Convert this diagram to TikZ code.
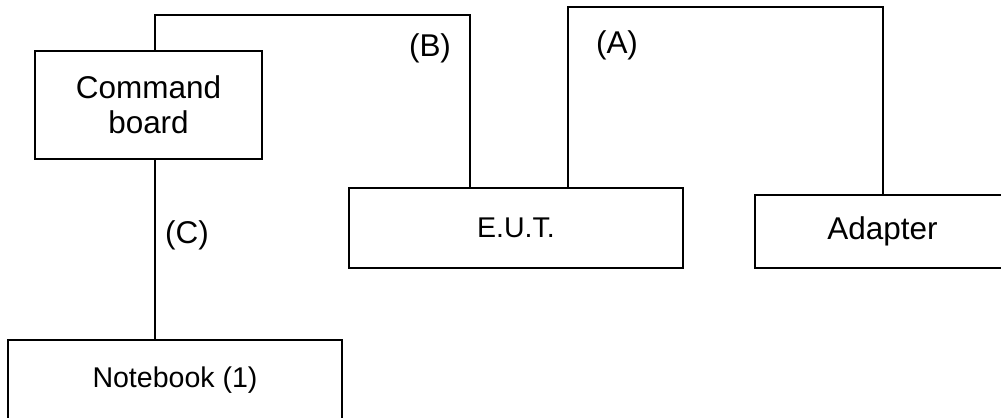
\documentclass[tikz,border=0pt]{standalone}
\usepackage{fontspec}
\setmainfont{Liberation Sans}
\usepackage{tikz}
\usetikzlibrary{calc, positioning}

\tikzset{
	unit/.style={draw, line width=1.4pt, inner sep=0pt, align=center},
	cable/.style={line width=1.4pt},
	bigtxt/.style={font=\fontsize{23.6}{26.3}\selectfont},
	smalltxt/.style={font=\fontsize{21.4}{24}\selectfont}
}

\begin{document}
\begin{tikzpicture}[x=0.75pt, y=-0.75pt]
	\useasboundingbox (0,0) rectangle (1001,418);
	
	%Geraete
	\node[unit, bigtxt, minimum width=170.25pt, minimum height=81pt] (cmd) at (148.5,105) {Command\\board};
	\node[unit, smalltxt, minimum width=250.5pt, minimum height=60pt] (eut) at (516,228) {E.U.T.};
	\node[unit, bigtxt, minimum width=191.25pt, minimum height=54.75pt] (adapter) at (882.5,231.5) {Adapter};
	\node[unit, smalltxt, minimum width=250.5pt, minimum height=60pt] (notebook) at (175,380) {Notebook (1)};
	
	%Kabel
	\coordinate (bTop) at (155,15);
	\coordinate (bRight) at (470,15);
	\coordinate (aLeft) at (568,7);
	\coordinate (aRight) at (883,7);
	\draw[cable] (cmd.north -| bTop) -- (bTop) -- (bRight) -- (bRight |- eut.north);
	\draw[cable] (aLeft |- eut.north) -- (aLeft) -- (aRight) -- (aRight |- adapter.north);
	\draw[cable] (cmd.south -| bTop) -- (bTop |- notebook.north);
	
	%Bezeichnung
	\node[bigtxt] (labB) at (430,48) {(B)};
	\node[bigtxt] (labA) at (617,45) {(A)};
	\node[bigtxt] (labC) at (187,235) {(C)};
	
\end{tikzpicture}
\end{document}
